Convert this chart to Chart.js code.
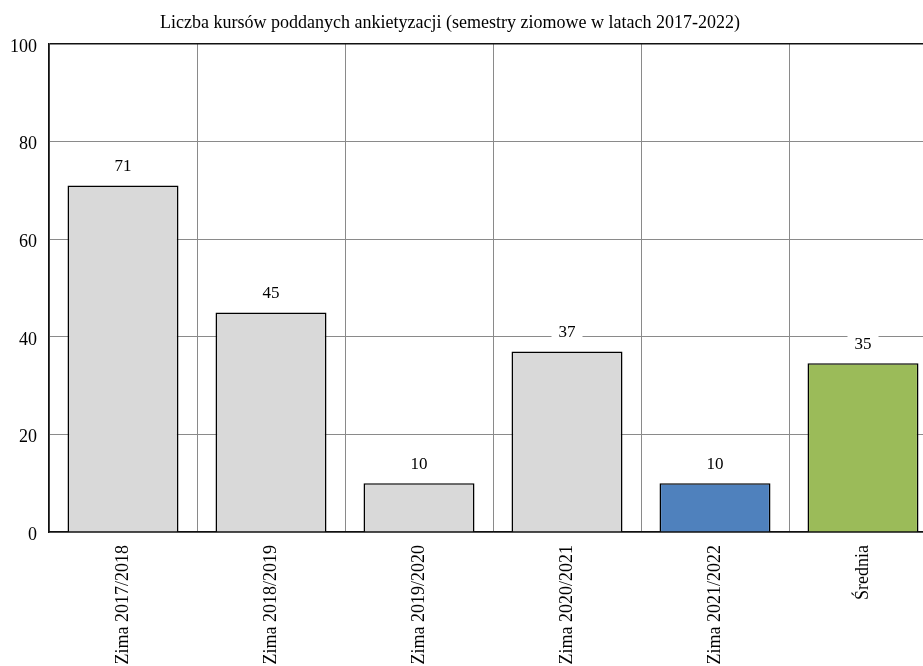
<!DOCTYPE html>
<html>
<head>
<meta charset="utf-8">
<script src="https://cdn.jsdelivr.net/npm/chart.js@4"></script>
<style>
  html, body { margin: 0; padding: 0; overflow: hidden; background: #fff; }
  #wrap { position: absolute; left: 0; top: 0; width: 940px; height: 666px; }
</style>
</head>
<body>
<div id="wrap"><canvas id="coursesChart"></canvas></div>
<script>
var chartTitle = "Liczba kursów poddanych ankietyzacji (semestry ziomowe w latach 2017-2022)";
var semesters = ["Zima 2017/2018", "Zima 2018/2019", "Zima 2019/2020", "Zima 2020/2021", "Zima 2021/2022", "Średnia"];
var courseCounts = [71, 45, 10, 37, 10, 34.6];
var barColors = ["#d9d9d9", "#d9d9d9", "#d9d9d9", "#d9d9d9", "#4f81bd", "#9bbb59"];
var yTicks = [0, 20, 40, 60, 80, 100];

var serif = "'Liberation Serif', 'Times New Roman', serif";

// title drawn by hand so it sits where the original one does
var titlePlugin = {
    id: 'titleText',
    afterDraw: function(chart) {
        var ctx = chart.ctx;
        ctx.save();
        ctx.font = "18px " + serif;
        ctx.fillStyle = "#000";
        ctx.textAlign = "center";
        ctx.textBaseline = "middle";
        ctx.fillText(chartTitle, 450, 23);
        ctx.restore();
    }
};

// value labels above bars, on a white patch that hides the grid
var valueLabels = {
    id: 'valueLabels',
    afterDatasetsDraw: function(chart) {
        var ctx = chart.ctx;
        var meta = chart.getDatasetMeta(0);
        ctx.save();
        ctx.font = "17px " + serif;
        ctx.textAlign = "center";
        ctx.textBaseline = "middle";
        meta.data.forEach(function(bar, i) {
            var txt = String(Math.round(courseCounts[i]));
            var w = ctx.measureText(txt).width;
            var cy = bar.y - 20;
            ctx.fillStyle = "#fff";
            ctx.fillRect(bar.x - w / 2 - 7, cy - 8, w + 14, 16);
            ctx.fillStyle = "#000";
            ctx.fillText(txt, bar.x, cy + 1);
        });
        ctx.restore();
    }
};

var ctx = document.getElementById('coursesChart').getContext('2d');
var chart = new Chart(ctx, {
    type: 'bar',
    data: {
        labels: semesters,
        datasets: [{
            data: courseCounts,
            backgroundColor: barColors,
            borderColor: "#000",
            borderWidth: 1.6,
            barPercentage: 0.75,
            categoryPercentage: 1
        }]
    },
    options: {
        responsive: true,
        maintainAspectRatio: false,
        animation: false,
        layout: { padding: { top: 44, right: 3, left: 0, bottom: 0 } },
        plugins: {
            legend: { display: false },
            title: { display: false },
            tooltip: { enabled: false }
        },
        scales: {
            x: {
                grid: { color: "#8a8a8a", lineWidth: 1, drawTicks: false, offset: true },
                border: { color: "#111", width: 1.6 },
                ticks: {
                    color: "#000",
                    font: { family: serif, size: 18 },
                    maxRotation: 90,
                    minRotation: 90,
                    autoSkip: false,
                    padding: 13
                },
                afterFit: function(scale) { scale.height = 134; }
            },
            y: {
                min: 0,
                max: 100,
                afterBuildTicks: function(scale) {
                    scale.ticks = yTicks.map(function(v) { return { value: v }; });
                },
                grid: {
                    color: function(c) { return c.tick && c.tick.value === 100 ? "#111" : "#8a8a8a"; },
                    lineWidth: function(c) { return c.tick && c.tick.value === 100 ? 1.6 : 1; },
                    drawTicks: false
                },
                border: { color: "#111", width: 1.6 },
                ticks: {
                    color: "#000",
                    font: { family: serif, size: 18 },
                    padding: 12,
                    labelOffset: 3
                },
                afterFit: function(scale) { scale.width = 49; }
            }
        }
    },
    plugins: [titlePlugin, valueLabels]
});
</script>
</body>
</html>
